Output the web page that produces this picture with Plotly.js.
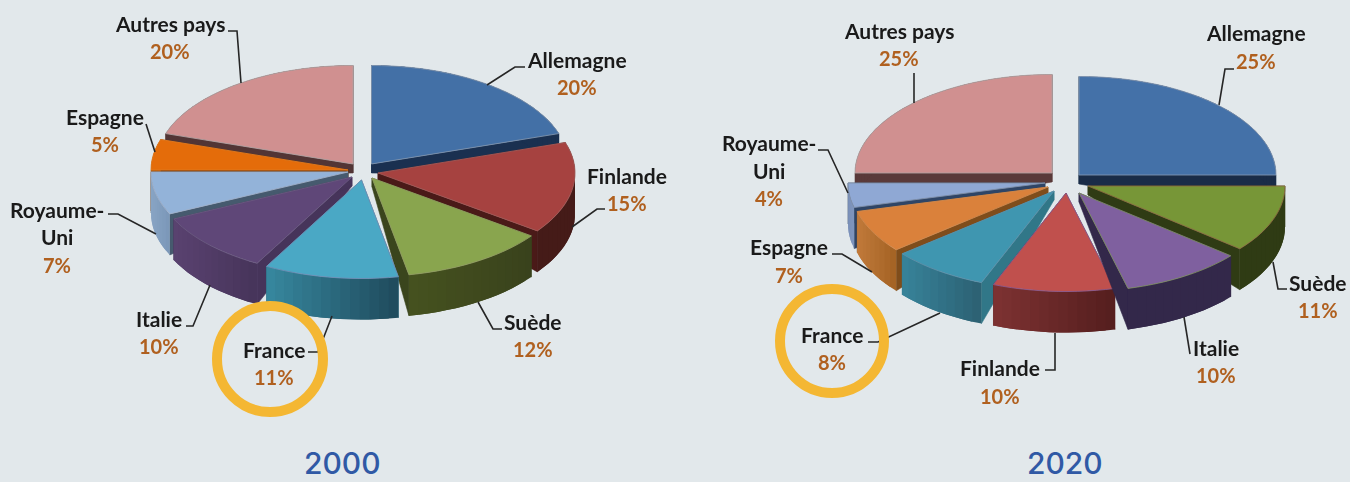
<!DOCTYPE html>
<html><head><meta charset="utf-8">
<script src="https://cdn.plot.ly/plotly-3.0.1.min.js"></script>
<style>
html,body{margin:0;padding:0;background:#e2e8eb;overflow:hidden}
#chart{width:1350px;height:482px}
.scatterlayer{filter:blur(0.55px)}
g.annotation:not([data-index="34"]):not([data-index="35"]){filter:blur(0.35px)}
</style></head><body><div id="chart"></div>
<script>
// ---- data ----
const categories2000 = ['Allemagne','Finlande','Suède','France','Italie','Royaume-Uni','Espagne','Autres pays'];
const values2000     = [20,15,12,11,10,7,5,20];
const categories2020 = ['Allemagne','Suède','Italie','Finlande','France','Espagne','Royaume-Uni','Autres pays'];
const values2020     = [25,11,10,10,8,7,4,25];
const yearLabels     = ['2000','2020'];

// ---- geometry (pixel axis space) ----
const apexX2000 = [371.5,378,372,361.5,352,348,348,353];
const apexY2000 = [164,173,178,180,177,172,170,164];
const apexX2020 = [1079,1088,1079,1066,1054,1048,1045,1052];
const apexY2020 = [175,186,193,193,191,187,183,173];
const order2000 = [7,0,6,5,1,4,2,3];
const order2020 = [7,0,6,5,1,4,3,2];

// ---- styles ----
const top2000  = ['#4370a6','#a64240','#89a54e','#4aa8c5','#5f4778','#93b3d9','#e46c0a','#d09090'];
const cut2000  = ['#1a3050','#4a1a18','#3a451d','#2d6b80','#46345a','#465a6e','#7a3a08','#523535'];
const wallA2000= ['#1a3050','#451b18','#46521f','#37889f','#5a4270','#88a4c4','#a85208','#523535'];
const wallB2000= ['#1a3050','#451b18','#39421c','#1f4a5c','#46345a','#7b97b8','#a85208','#523535'];
const edge2000 = ['#7f93ad','#a05a58','#8f9a60','#6f8fb5','#6a5a80','#a0b0c8','#e07a20','#b0a0a0'];
const top2020  = ['#4471a8','#779637','#7f609f','#c0504d','#3f96b0','#da813b','#8fa8d4','#d09090'];
const cut2020  = ['#1a2c48','#2f3b14','#33284a','#5a2020','#317788','#7f4d1b','#2f4566','#5a3a3a'];
const wallA2020= ['#1a2c48','#2f3b14','#33284a','#7e3232','#37839a','#c17a3b','#7a90b8','#5a3a3a'];
const wallB2020= ['#1a2c48','#2f3b14','#33284a','#541e1e','#2c6072','#a36223','#7f95bd','#5a3a3a'];
const edge2020 = ['#8094b0','#8a6a40','#7a8a60','#8a5a90','#5f90a8','#cf8a50','#8090a8','#b0a0a0'];

const RX = 197, RY = 98.5, DEPTH = 41, APEX_DEPTH = 9;
const traces = [];

function hex(c){return [1,3,5].map(i=>parseInt(c.substr(i,2),16));}
function mix(a,b,t){const A=hex(a),B=hex(b);return 'rgb('+A.map((v,i)=>Math.round(v+(B[i]-v)*t)).join(',')+')';}
function poly(xs,ys,fill,lineColor,w){
  traces.push({type:'scatter',mode:'lines',x:xs.concat(xs[0]),y:ys.concat(ys[0]),fill:'toself',
    fillcolor:fill,line:{color:lineColor||fill,width:w===undefined?0.6:w,simplify:false},hoverinfo:'skip',showlegend:false});
}
function drawPie(values,ax,ay,order,top,cut,wallA,wallB,edge){
  const total=values.reduce((a,b)=>a+b,0); let c=0;
  const ang=values.map(v=>{const s=[c/total*2*Math.PI,(c+v)/total*2*Math.PI];c+=v;return s;});
  order.forEach(i=>{
    const [a0,a1]=ang[i], X=a=>ax[i]+RX*Math.sin(a), Y=a=>ay[i]-RY*Math.cos(a);
    const n=Math.max(6,Math.round((a1-a0)/0.05));
    const as=[];for(let k=0;k<=n;k++)as.push(a0+(a1-a0)*k/n);
    // cut faces
    [a0,a1].forEach(a=>poly([ax[i],X(a),X(a),ax[i]],[ay[i],Y(a),Y(a)+DEPTH,ay[i]+APEX_DEPTH],cut[i]));
    // outer wall: shaded strips, each one running on under the next so no seam shows
    const xmin=Math.min(...as.map(X)),xmax=Math.max(...as.map(X));
    for(let k=0;k<n;k++){
      const t=((X(as[k])+X(as[k+1]))/2-xmin)/(xmax-xmin||1);
      const col=mix(wallA[i],wallB[i],t);
      const run=as.slice(k,Math.min(k+3,n+1));
      poly(run.map(X).concat(run.map(X).reverse()),
           run.map(Y).concat(run.map(a=>Y(a)+DEPTH).reverse()),col,col,0);
    }
    // top face
    poly([ax[i]].concat(as.map(X)),[ay[i]].concat(as.map(Y)),top[i],edge[i],0.9);
  });
}
drawPie(values2000,apexX2000,apexY2000,order2000,top2000,cut2000,wallA2000,wallB2000,edge2000);
drawPie(values2020,apexX2020,apexY2020,order2020,top2020,cut2020,wallA2020,wallB2020,edge2020);

// ---- leader lines ----
const leaders = [
 [[487,85],[515,67],[525,67]],[[572,227],[597,209],[605,209]],[[478,302],[493,329],[502,329]],
 [[332,316],[318,352],[308,352]],[[210,285],[193,326],[186,326]],[[156,234],[118,214],[108,214]],
 [[155,152],[146,124]],[[241,83],[237,31],[228,31]],
 [[1219,105],[1225,69],[1234,69]],[[1273,262],[1278,289],[1287,289]],[[1184,317],[1190,354]],
 [[1055,333],[1055,370],[1045,370]],[[940,313],[878,342],[868,342]],[[872,272],[842,254],[832,254]],
 [[848,193],[828,150],[818,150]],[[914,103],[914,73]]
];
const shapes = leaders.map(p=>({type:'path',xref:'x',yref:'y',layer:'above',
  path:'M'+p.map(q=>q.join(',')).join('L'),line:{color:'#262626',width:1.6}}));
// France highlight rings
[[270,359,53],[832,341,52]].forEach(([cx,cy,r])=>shapes.push({type:'circle',xref:'x',yref:'y',layer:'above',
  x0:cx-r,x1:cx+r,y0:cy-r,y1:cy+r,line:{color:'#f4b733',width:10},fillcolor:'rgba(0,0,0,0)'}));

// ---- labels ----
const labelPos2000 = {'Allemagne':[577,59,87],'Finlande':[627,175,203],'Suède':[533,321,349],'France':[274,349,377],
  'Italie':[159,318,346],'Espagne':[105,116,144],'Autres pays':[170,23,51]};
const labelPos2020 = {'Allemagne':[1256,32,61],'Suède':[1318,282,310],'Italie':[1216,347,375],'Finlande':[1000,367,396],
  'France':[832,334,362],'Espagne':[789,246,275],'Autres pays':[899,30,58]};
const annotations=[];
function txt(x,y,t,color,size,family,weight){annotations.push({x,y,xref:'x',yref:'y',text:t,showarrow:false,
  xanchor:'center',yanchor:'middle',font:{family,size,color,weight}});}
const LF='Lato, "Noto Sans", sans-serif';
const NAME=21, PCT=20;
function labels(cats,vals,pos,ru){
  cats.forEach((c,i)=>{
    if(c==='Royaume-Uni'){
      txt(ru[0],ru[1],'Royaume-','#1a1a1a',NAME,LF,700);
      txt(ru[0],ru[2],'Uni','#1a1a1a',NAME,LF,700);
      txt(ru[0],ru[3],vals[i]+'%','#b0601f',PCT,LF,700);
    } else {
      const p=pos[c];
      txt(p[0],p[1],c,'#1a1a1a',NAME,LF,700);
      txt(p[0],p[2],vals[i]+'%','#b0601f',PCT,LF,700);
    }
  });
}
labels(categories2000,values2000,labelPos2000,[57,209,236,265]);
labels(categories2020,values2020,labelPos2020,[769,142,170,198]);
[[342,463],[1065,463]].forEach((p,i)=>txt(p[0],p[1],yearLabels[i],'#3059a5',30,'Inter, sans-serif',500));

const layout={width:1350,height:482,margin:{l:0,r:0,t:0,b:0},paper_bgcolor:'#e2e8eb',plot_bgcolor:'#e2e8eb',
  xaxis:{range:[0,1350],visible:false,fixedrange:true},
  yaxis:{range:[482,0],visible:false,fixedrange:true},
  showlegend:false,hovermode:false,shapes,annotations};
Plotly.newPlot('chart',traces,layout,{displayModeBar:false,staticPlot:true});
</script></body></html>
